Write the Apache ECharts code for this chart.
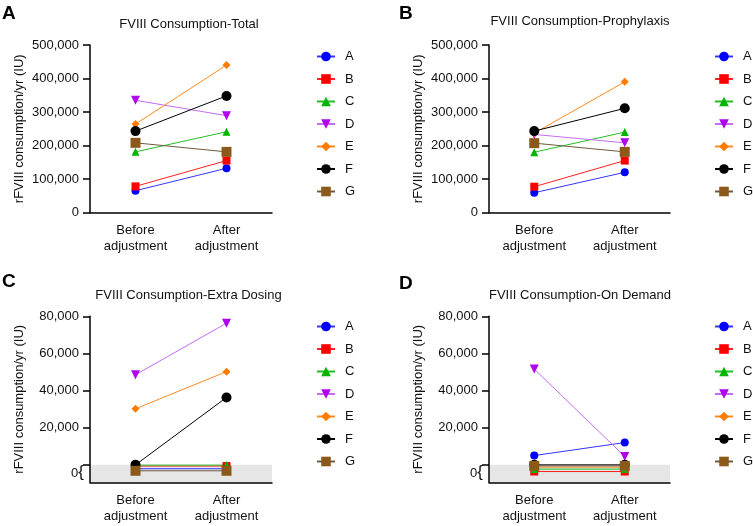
<!DOCTYPE html>
<html>
<head>
<meta charset="utf-8">
<script src="https://cdn.jsdelivr.net/npm/echarts@6/dist/echarts.min.js"></script>
<style>
  html, body { margin: 0; padding: 0; background: #fff; }
  #chart { width: 753px; height: 526px; }
</style>
</head>
<body>
<div id="chart"></div>
<script>
// groups and stages
var groups = ['A', 'B', 'C', 'D', 'E', 'F', 'G'];
var stages = ['Before\nadjustment', 'After\nadjustment'];

// panel A - total
var totalBefore = [65000, 78000, 181000, 335000, 264000, 243000, 208000];
var totalAfter = [132000, 155000, 241000, 289000, 440000, 348000, 181000];
// panel B - prophylaxis
var prophBefore = [59000, 77000, 180000, 233000, 237000, 243000, 207000];
var prophAfter = [120000, 155000, 240000, 208000, 390000, 311000, 181000];
// panel C - extra dosing
var extraBefore = [0, 0, 0, 48500, 30200, 0, 0];
var extraAfter = [0, 0, 0, 76300, 50200, 36300, 0];
// panel D - on demand
var demandBefore = [5000, 0, 0, 51600, 0, 0, 0];
var demandAfter = [12000, 0, 0, 4500, 0, 0, 0];

// tick labels
var bigTicks = [0, 100000, 200000, 300000, 400000, 500000];
var smallTicks = [0, 20000, 40000, 60000, 80000];

// where zero values are drawn inside the grey "0" band (C and D)
var bandMin = -9400;
var extraZeroSlot = [-2100, -650, -150, 0, 0, 0, -3200];
var demandZeroSlot = [0, -3600, -2300, 0, -1250, 0, -550];

var styles = [
    {symbol: 'circle', size: 8, color: '#0000ff', line: '#3434ff'},
    {symbol: 'rect', size: 8, color: '#ff0000', line: '#ff2020'},
    {symbol: 'triangle', size: 8, color: '#00b400', line: '#20c020'},
    {symbol: 'triangle', size: 9, color: '#b000f0', line: '#c46cf4', rotate: 180},
    {symbol: 'diamond', size: 8, color: '#ff7a00', line: '#ff8a20'},
    {symbol: 'circle', size: 10, color: '#000000', line: '#000000'},
    {symbol: 'rect', size: 10, color: '#8b5a1b', line: '#6f5a40'}
];

var font = 'Liberation Sans, Arial, sans-serif';
var fmt = function (v) { return v.toLocaleString('en-US'); };

var grids = [
    {left: 90, top: 45, width: 182, height: 167.5},
    {left: 489, top: 45, width: 181, height: 167.5},
    {left: 90, top: 316.3, width: 182, height: 166},
    {left: 489, top: 316.3, width: 181, height: 166}
];

var xAxes = grids.map(function (g, i) {
    return {
        type: 'category', gridIndex: i, data: stages,
        axisLine: {onZero: false, lineStyle: {color: '#000', width: 1.5}},
        axisTick: {alignWithLabel: true, length: 6, lineStyle: {color: '#000', width: 1.5}},
        axisLabel: {margin: 10, color: '#111', fontSize: 13, lineHeight: 16, fontFamily: font}
    };
});

var yAxes = grids.map(function (g, i) {
    var ax = {
        type: 'value', gridIndex: i, position: 'left',
        name: 'rFVIII consumption/yr (IU)', nameLocation: 'middle', nameGap: 64,
        nameTextStyle: {fontSize: 13, color: '#111', fontFamily: font},
        splitLine: {show: false},
        axisLine: {show: true, onZero: false, lineStyle: {color: '#000', width: 1.5}},
        axisTick: {show: true, length: 7, lineStyle: {color: '#000', width: 1.5}},
        axisLabel: {margin: 11, color: '#111', fontSize: 13, fontFamily: font, formatter: fmt}
    };
    if (i < 2) {
        ax.min = 0; ax.max = 500000; ax.interval = 100000;
    } else {
        ax.min = bandMin; ax.max = 80000;
        ax.axisTick.customValues = smallTicks;
        ax.axisLabel.customValues = smallTicks.slice(1);
    }
    return ax;
});
// the "0{" label of the zero band, on a bare axis over C and D
[2, 3].forEach(function (gi) {
    yAxes.push({
        type: 'value', gridIndex: gi, position: 'left', min: bandMin, max: 80000,
        splitLine: {show: false}, axisLine: {show: false, onZero: false}, axisTick: {show: false},
        axisLabel: {
            margin: 6, customValues: [bandMin / 2],
            formatter: function () { return '{z|0}{b|{}'; },
            rich: {
                z: {fontSize: 13, color: '#111', fontFamily: font},
                b: {fontSize: 17, color: '#111', fontFamily: font, padding: [0, 0, 2, 0]}
            }
        }
    });
});

var panels = [
    {before: totalBefore, after: totalAfter},
    {before: prophBefore, after: prophAfter},
    {before: extraBefore, after: extraAfter, slot: extraZeroSlot},
    {before: demandBefore, after: demandAfter, slot: demandZeroSlot}
];

var series = [];
panels.forEach(function (p, pi) {
    if (p.slot) {
        // grey band behind the zero values
        series.push({
            type: 'line', xAxisIndex: pi, yAxisIndex: pi, data: [], z: 0,
            markArea: {
                silent: true, z: 0,
                itemStyle: {color: '#e6e6e6', opacity: 1},
                data: [[{yAxis: bandMin}, {yAxis: 0}]]
            }
        });
    }
    groups.forEach(function (name, gi) {
        var st = styles[gi];
        var place = function (v) { return (p.slot && v === 0) ? p.slot[gi] : v; };
        series.push({
            name: name, type: 'line',
            xAxisIndex: pi, yAxisIndex: pi,
            data: [place(p.before[gi]), place(p.after[gi])],
            symbol: st.symbol, symbolSize: st.size, symbolRotate: st.rotate || 0,
            itemStyle: {color: st.color},
            lineStyle: {color: st.line, width: 1},
            z: 3
        });
    });
});

var legendPos = [[316, 50], [714, 50], [316, 320], [714, 320]];
var legends = legendPos.map(function (pos) {
    return {
        orient: 'vertical', left: pos[0], top: pos[1], padding: 0,
        data: groups, itemWidth: 18, itemHeight: 12, itemGap: 9.5,
        selectedMode: false,
        textStyle: {fontSize: 13, color: '#111', fontFamily: font, padding: [0, 0, 0, 5]}
    };
});

var titleText = [
    ['FVIII Consumption-Total', 189, 18],
    ['FVIII Consumption-Prophylaxis', 580, 15],
    ['FVIII Consumption-Extra Dosing', 188.5, 289],
    ['FVIII Consumption-On Demand', 580, 288.5]
];
var letters = [['A', 2, 4], ['B', 399, 4], ['C', 2, 272], ['D', 399, 274]];
var titles = titleText.map(function (t) {
    return {
        text: t[0], left: t[1], top: t[2], textAlign: 'center', padding: 0,
        textStyle: {fontSize: 13, fontWeight: 'normal', color: '#111', fontFamily: font}
    };
}).concat(letters.map(function (t) {
    return {
        text: t[0], left: t[1], top: t[2], padding: 0,
        textStyle: {fontSize: 19, fontWeight: 'bold', color: '#000', fontFamily: font}
    };
}));

var chart = echarts.init(document.getElementById('chart'));
chart.setOption({
    animation: false,
    title: titles,
    legend: legends,
    grid: grids,
    xAxis: xAxes,
    yAxis: yAxes,
    series: series
});
</script>
</body>
</html>
